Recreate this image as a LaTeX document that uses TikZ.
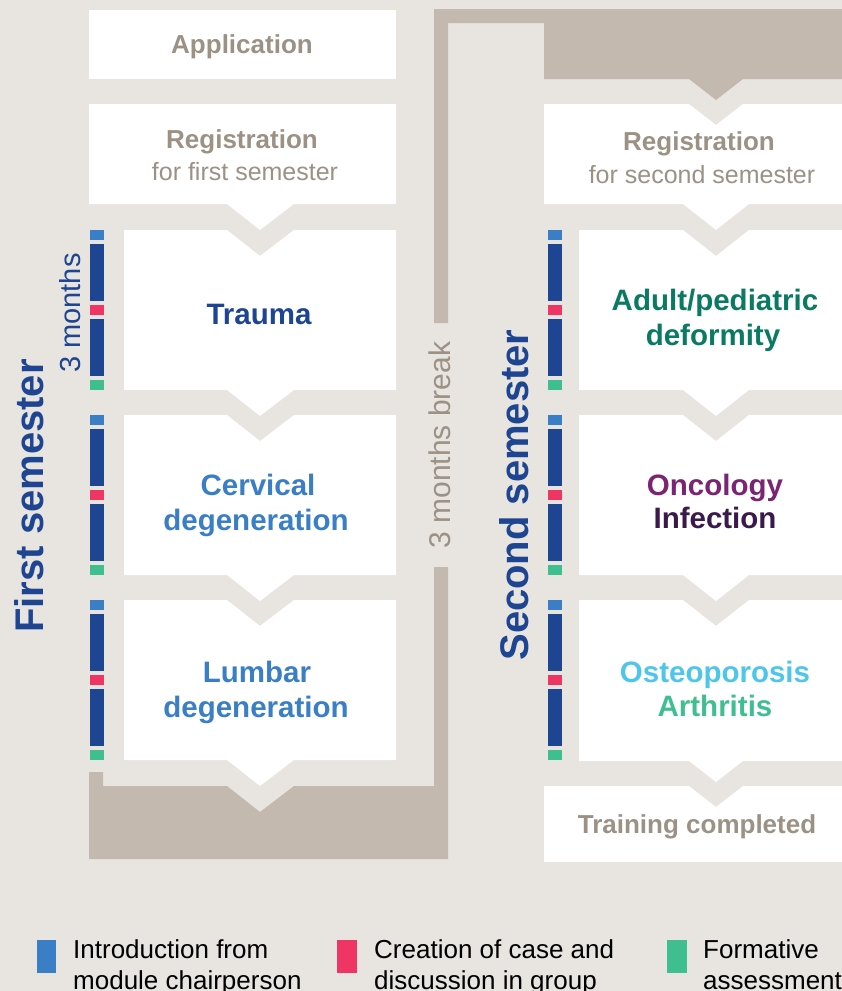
\documentclass[tikz,border=0pt]{standalone}
\usepackage{fontspec}
\setmainfont{Liberation Sans}
\definecolor{bgc}{HTML}{E8E4E0}
\definecolor{taupec}{HTML}{C3B9AE}
\definecolor{graytxt}{HTML}{9B9285}
\definecolor{dblue}{HTML}{1D4592}
\definecolor{introc}{HTML}{3A7FC5}
\definecolor{pinkc}{HTML}{EF3563}
\definecolor{greenc}{HTML}{3FBF90}
\definecolor{tealc}{HTML}{0A7A62}
\definecolor{purpc}{HTML}{7B2473}
\definecolor{dpurpc}{HTML}{3A1A4B}
\definecolor{cyanc}{HTML}{4DC6EA}
\tikzset{
  whitebox/.style={fill=white},
  taupebox/.style={fill=taupec},
  title/.style={font=\bfseries\fontsize{26}{30}\selectfont, text=graytxt, inner sep=0pt, anchor=base},
  subt/.style={font=\fontsize{25}{30}\selectfont, text=graytxt, inner sep=0pt, anchor=base},
  modt/.style={font=\bfseries\fontsize{29.5}{35}\selectfont, inner sep=0pt, anchor=base},
  semt/.style={font=\bfseries\fontsize{40}{40}\selectfont, text=dblue, inner sep=0pt, anchor=base, rotate=90},
  vlab/.style={font=\fontsize{29}{29}\selectfont, inner sep=0pt, anchor=base, rotate=90},
  legt/.style={font=\fontsize{26}{31}\selectfont, text=black, inner sep=0pt, anchor=base west},
}
\begin{document}
\begin{tikzpicture}[x=1pt,y=-1pt]
\useasboundingbox (0,0) rectangle (842,991);
\fill[bgc] (0,0) rectangle (842,991);

% taupe frame pieces
\fill[taupebox] (434,323) -- (434,9) -- (842,9) -- (842,79) -- (743,79) -- (716,100) -- (689,79)
  -- (544,79) -- (544,23) -- (448,23) -- (448,323) -- cycle;
\fill[taupebox] (89,772) -- (103,772) -- (103,786) -- (227,786) -- (260,812) -- (294,786)
  -- (434,786) -- (434,567) -- (448,567) -- (448,859) -- (89,859) -- cycle;

% left column boxes
\fill[whitebox] (89,10) rectangle (396,79);
\fill[whitebox] (89,104) -- (396,104) -- (396,204) -- (294,204) -- (260,230) -- (227,204) -- (89,204) -- cycle;
\foreach \y in {230,415,600}{
  \fill[whitebox] (124,\y) -- (227,\y) -- (260,\y+26) -- (294,\y) -- (396,\y) -- (396,\y+160)
    -- (294,\y+160) -- (260,\y+186) -- (227,\y+160) -- (124,\y+160) -- cycle;
}

% right column boxes
\fill[whitebox] (544,104) -- (689,104) -- (716,125) -- (743,104) -- (842,104) -- (842,204)
  -- (749,204) -- (716,230) -- (683,204) -- (544,204) -- cycle;
\foreach \y in {230,415}{
  \fill[whitebox] (579,\y) -- (683,\y) -- (716,\y+26) -- (749,\y) -- (842,\y) -- (842,\y+160)
    -- (749,\y+160) -- (716,\y+186) -- (683,\y+160) -- (579,\y+160) -- cycle;
}
\fill[whitebox] (579,600) -- (683,600) -- (716,626) -- (749,600) -- (842,600) -- (842,761)
  -- (743,761) -- (716,782) -- (689,761) -- (579,761) -- cycle;
\fill[whitebox] (544,786) -- (689,786) -- (716,807) -- (743,786) -- (842,786) -- (842,862) -- (544,862) -- cycle;

% module bars
\foreach \bx in {90,548}{
  \foreach \by in {230,415,600}{
    \fill[introc] (\bx,\by) rectangle (\bx+14,\by+10);
    \fill[dblue] (\bx,\by+14) rectangle (\bx+14,\by+71);
    \fill[pinkc] (\bx,\by+75) rectangle (\bx+14,\by+85);
    \fill[dblue] (\bx,\by+89) rectangle (\bx+14,\by+146);
    \fill[greenc] (\bx,\by+150) rectangle (\bx+14,\by+160);
  }
}

% texts left column
\node[title] (app) at (242,53) {Application};
\node[title] (reg1) at (242,148) {Registration};
\node[subt] (reg1s) at (245,180) {for first semester};
\node[modt, text=dblue] (trauma) at (259,324) {Trauma};
\node[modt, text=introc] (cerv1) at (258,495) {Cervical};
\node[modt, text=introc] (cerv2) at (256,530) {degeneration};
\node[modt, text=introc] (lumb1) at (257,682) {Lumbar};
\node[modt, text=introc] (lumb2) at (256,717) {degeneration};

% texts right column
\node[title] (reg2) at (699,150) {Registration};
\node[subt] (reg2s) at (702,183) {for second semester};
\node[modt, text=tealc] (adult1) at (715,310) {Adult/pediatric};
\node[modt, text=tealc] (adult2) at (713,345) {deformity};
\node[modt, text=purpc] (onc) at (715,495) {Oncology};
\node[modt, text=dpurpc] (inf) at (715,528) {Infection};
\node[modt, text=cyanc] (ost) at (715,682) {Osteoporosis};
\node[modt, text=greenc] (arth) at (715,716) {Arthritis};
\node[title] (done) at (697,833) {Training completed};

% rotated labels
\node[semt] (first) at (43,496) {First semester};
\node[semt] (second) at (528,495) {Second semester};
\node[vlab, text=dblue] (three) at (80,313) {3 months};
\node[vlab, text=graytxt, font=\fontsize{30}{30}\selectfont] (brk) at (450,445) {3 months break};

% legend
\fill[introc] (37,940) rectangle (56,973);
\fill[pinkc] (337,940) rectangle (357,973);
\fill[greenc] (667,940) rectangle (687,973);
\node[legt] (l1a) at (73,958) {Introduction from};
\node[legt] (l1b) at (73,989) {module chairperson};
\node[legt] (l2a) at (374,958) {Creation of case and};
\node[legt] (l2b) at (374,989) {discussion in group};
\node[legt] (l3a) at (703,958) {Formative};
\node[legt] (l3b) at (703,989) {assessment};
\end{tikzpicture}
\end{document}
